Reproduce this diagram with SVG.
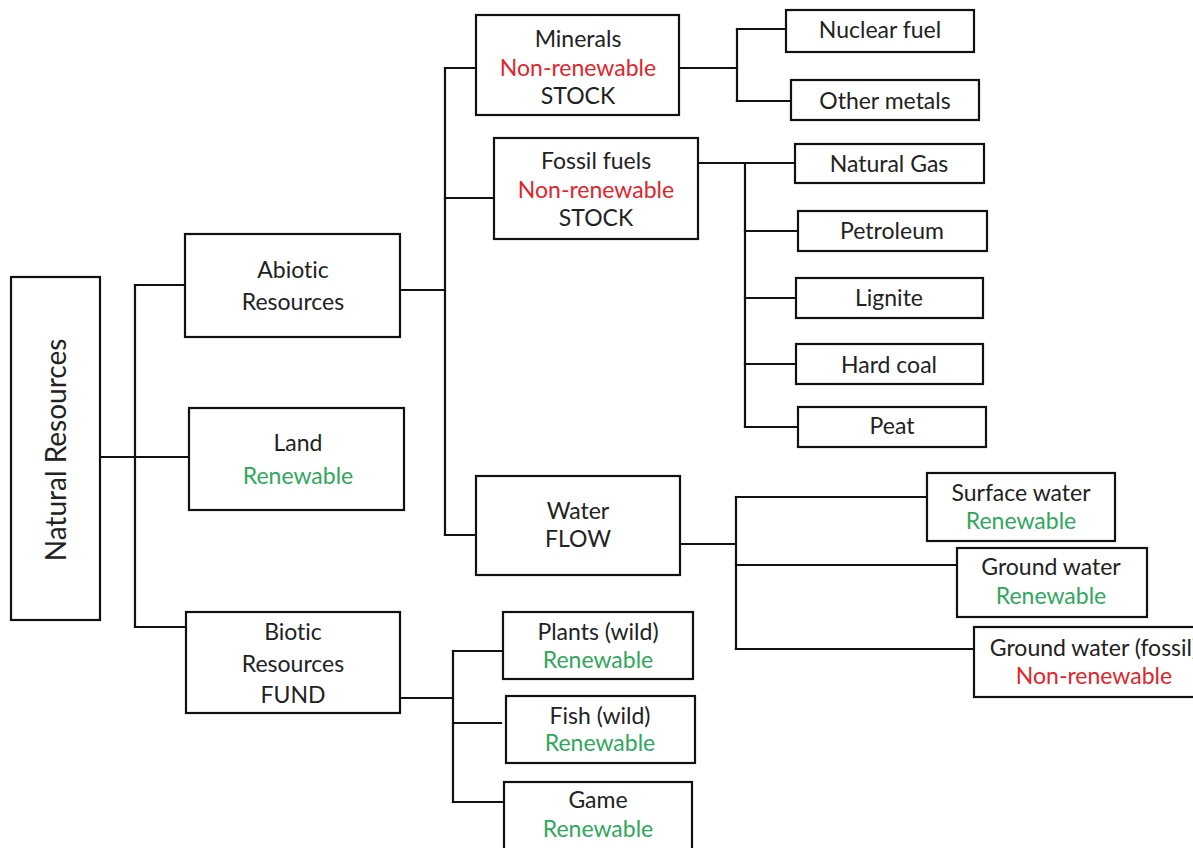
<svg xmlns="http://www.w3.org/2000/svg" width="1193" height="848" viewBox="0 0 1193 848">
  <style>
    .box { fill: #ffffff; stroke: #111111; stroke-width: 2.2; }
    .wire { fill: none; stroke: #111111; stroke-width: 2.2; stroke-linecap: square; }
    text { font-family: Lato, "Open Sans", "Liberation Sans", sans-serif; font-size: 23px; fill: #222222; text-anchor: middle; font-variant-ligatures: none; }
    .red { fill: #e3242b; }
    .green { fill: #2fa85c; }
    .title { font-size: 28px; }
  </style>
  <rect width="1193" height="848" fill="#ffffff"/>

  <!-- tree connectors -->
  <g id="connectors" class="wire">
    <!-- root -->
    <path d="M100 457 H188"/>
    <path d="M135 285 V627"/>
    <path d="M135 285 H185"/>
    <path d="M135 627 H186"/>
    <!-- abiotic -->
    <path d="M400 290 H445"/>
    <path d="M445 68 V535"/>
    <path d="M445 68 H476"/>
    <path d="M445 198 H494"/>
    <path d="M445 535 H476"/>
    <!-- minerals -->
    <path d="M679 68 H737"/>
    <path d="M737 29 V101"/>
    <path d="M737 29 H786"/>
    <path d="M737 101 H791"/>
    <!-- fossil fuels -->
    <path d="M698 163 H795"/>
    <path d="M745 163 V427"/>
    <path d="M745 231 H798"/>
    <path d="M745 298 H796"/>
    <path d="M745 364 H796"/>
    <path d="M745 427 H798"/>
    <!-- water -->
    <path d="M680 544 H736"/>
    <path d="M736 497 V649"/>
    <path d="M736 497 H927"/>
    <path d="M736 565 H957"/>
    <path d="M736 649 H974"/>
    <!-- biotic -->
    <path d="M400 698 H453"/>
    <path d="M453 651 V802"/>
    <path d="M453 651 H503"/>
    <path d="M453 723 H501"/>
    <path d="M453 802 H505"/>
  </g>

  <g id="natural-resources">
    <rect class="box" x="11" y="277" width="89" height="343"/>
    <text class="title" transform="translate(66 450) rotate(-90)">Natural Resources</text>
  </g>

  <g id="abiotic">
    <rect class="box" x="185" y="234" width="215" height="103"/>
    <text x="293" y="278">Abiotic</text>
    <text x="293" y="310">Resources</text>
  </g>

  <g id="land">
    <rect class="box" x="189" y="408" width="215" height="102"/>
    <text x="298" y="451">Land</text>
    <text x="298" y="484" class="green">Renewable</text>
  </g>

  <g id="biotic">
    <rect class="box" x="186" y="612" width="214" height="101"/>
    <text x="293" y="640">Biotic</text>
    <text x="293" y="672">Resources</text>
    <text x="293" y="703">FUND</text>
  </g>

  <g id="minerals">
    <rect class="box" x="476" y="15" width="203" height="100"/>
    <text x="578" y="47">Minerals</text>
    <text x="578" y="76" class="red">Non-renewable</text>
    <text x="578" y="104">STOCK</text>
  </g>

  <g id="fossil-fuels">
    <rect class="box" x="494" y="138" width="204" height="101"/>
    <text x="596" y="169">Fossil fuels</text>
    <text x="596" y="198" class="red">Non-renewable</text>
    <text x="596" y="226">STOCK</text>
  </g>

  <g id="water">
    <rect class="box" x="476" y="476" width="204" height="99"/>
    <text x="578" y="519">Water</text>
    <text x="578" y="547">FLOW</text>
  </g>

  <g id="nuclear-fuel">
    <rect class="box" x="786" y="10" width="188" height="42"/>
    <text x="880" y="38">Nuclear fuel</text>
  </g>

  <g id="other-metals">
    <rect class="box" x="791" y="80" width="188" height="40"/>
    <text x="885" y="109">Other metals</text>
  </g>

  <g id="natural-gas">
    <rect class="box" x="795" y="144" width="189" height="39"/>
    <text x="889" y="172">Natural Gas</text>
  </g>

  <g id="petroleum">
    <rect class="box" x="798" y="211" width="189" height="40"/>
    <text x="892" y="239">Petroleum</text>
  </g>

  <g id="lignite">
    <rect class="box" x="796" y="278" width="187" height="40"/>
    <text x="889" y="306">Lignite</text>
  </g>

  <g id="hard-coal">
    <rect class="box" x="796" y="344" width="187" height="40"/>
    <text x="889" y="373">Hard coal</text>
  </g>

  <g id="peat">
    <rect class="box" x="798" y="407" width="188" height="40"/>
    <text x="892" y="434">Peat</text>
  </g>

  <g id="surface-water">
    <rect class="box" x="927" y="473" width="188" height="68"/>
    <text x="1021" y="501">Surface water</text>
    <text x="1021" y="529" class="green">Renewable</text>
  </g>

  <g id="ground-water">
    <rect class="box" x="957" y="548" width="190" height="69"/>
    <text x="1051" y="575">Ground water</text>
    <text x="1051" y="604" class="green">Renewable</text>
  </g>

  <g id="ground-water-fossil">
    <rect class="box" x="974" y="627" width="230" height="70"/>
    <text x="1094" y="656">Ground water (fossil)</text>
    <text x="1094" y="684" class="red">Non-renewable</text>
  </g>

  <g id="plants">
    <rect class="box" x="503" y="612" width="190" height="67"/>
    <text x="598" y="640">Plants (wild)</text>
    <text x="598" y="668" class="green">Renewable</text>
  </g>

  <g id="fish">
    <rect class="box" x="506" y="696" width="189" height="67"/>
    <text x="600" y="724">Fish (wild)</text>
    <text x="600" y="751" class="green">Renewable</text>
  </g>

  <g id="game">
    <rect class="box" x="504" y="782" width="188" height="80"/>
    <text x="598" y="808">Game</text>
    <text x="598" y="837" class="green">Renewable</text>
  </g>
</svg>
